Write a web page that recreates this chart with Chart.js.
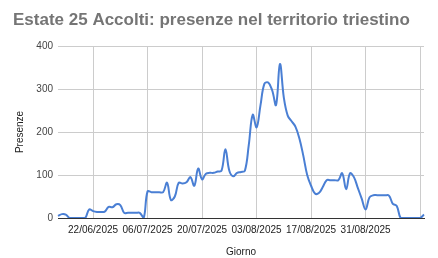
<!DOCTYPE html>
<html>
<head>
<meta charset="utf-8">
<script src="https://cdn.jsdelivr.net/npm/chart.js@4.4.1/dist/chart.umd.min.js"></script>
<style>
  html, body { margin: 0; padding: 0; background: #fff; }
  #wrap { width: 438px; height: 258px; }
</style>
</head>
<body>
<div id="wrap"><canvas id="presenzeChart" width="438" height="258"></canvas></div>
<script>
// daily presences, from 13/06/2025 to 15/09/2025
const startDate = new Date(2025, 5, 13);
const presenze = [
    5, 9, 8, 0, 0, 0, 0, 0, 20, 16,
    14, 14, 15, 26, 25, 32, 30, 12, 12, 12,
    12, 12, 0, 62, 60, 60, 60, 60, 82, 42,
    50, 82, 80, 83, 95, 75, 115, 90, 103, 105,
    105, 108, 110, 160, 110, 97, 105, 107, 110, 170,
    240, 211, 262, 312, 315, 297, 263, 358, 280, 238,
    225, 212, 185, 145, 100, 75, 57, 58, 72, 88,
    88, 88, 88, 104, 67, 104, 95, 70, 45, 20,
    48, 53, 53, 53, 53, 52, 33, 28, 0, 0,
    0, 0, 0, 0, 8
];

// one label per day dd/mm/yyyy
const giorni = presenze.map((v, i) => {
    const d = new Date(startDate);
    d.setDate(d.getDate() + i);
    return d.getDate().toString().padStart(2, '0') + '/' +
        (d.getMonth() + 1).toString().padStart(2, '0') + '/' + d.getFullYear();
});

// ticks every two weeks starting from 22/06
const firstTick = 9;
const tickStep = 14;
const lastUnlabelled = 93;

const ctx = document.getElementById('presenzeChart').getContext('2d');
const presenzeChart = new Chart(ctx, {
    type: 'line',
    data: {
        labels: giorni,
        datasets: [{
            label: 'Presenze',
            data: presenze,
            borderColor: '#4a7fd4',
            borderWidth: 2,
            pointRadius: 0,
            tension: 0.4,
            fill: false
        }]
    },
    options: {
        responsive: false,
        animation: false,
        layout: { padding: { left: 13, right: 14, top: 0, bottom: 0 } },
        plugins: {
            legend: { display: false },
            tooltip: { enabled: false },
            title: {
                display: true,
                text: 'Estate 25 Accolti: presenze nel territorio triestino',
                align: 'start',
                color: '#757575',
                font: { family: 'Liberation Sans, Arial, sans-serif', size: 17, weight: 'bold' },
                padding: { top: 10, bottom: 15.6 }
            }
        },
        scales: {
            x: {
                offset: false,
                grid: {
                    color: '#cccccc',
                    drawTicks: false
                },
                border: { color: '#333333', width: 1 },
                ticks: {
                    autoSkip: false,
                    maxRotation: 0,
                    padding: 6,
                    color: '#222222',
                    font: { family: 'Liberation Sans, Arial, sans-serif', size: 10 },
                    callback: function (value, index) {
                        if (index >= firstTick && (index - firstTick) % tickStep === 0) {
                            return index === lastUnlabelled ? '' : giorni[index];
                        }
                        return null;
                    }
                },
                title: {
                    display: true,
                    text: 'Giorno',
                    color: '#222222',
                    font: { family: 'Liberation Sans, Arial, sans-serif', size: 10 },
                    padding: { top: 10, bottom: 0 }
                },
                afterFit: function (scale) { scale.height = 40; }
            },
            y: {
                min: 0,
                max: 400,
                grid: {
                    color: '#cccccc',
                    drawTicks: false
                },
                border: { display: false },
                ticks: {
                    stepSize: 100,
                    padding: 5,
                    color: '#444444',
                    font: { family: 'Liberation Sans, Arial, sans-serif', size: 10 }
                },
                title: {
                    display: true,
                    text: 'Presenze',
                    color: '#222222',
                    font: { family: 'Liberation Sans, Arial, sans-serif', size: 10 },
                    padding: { top: 1, bottom: 0 }
                },
                afterFit: function (scale) { scale.width = 45; }
            }
        }
    }
});
</script>
</body>
</html>
